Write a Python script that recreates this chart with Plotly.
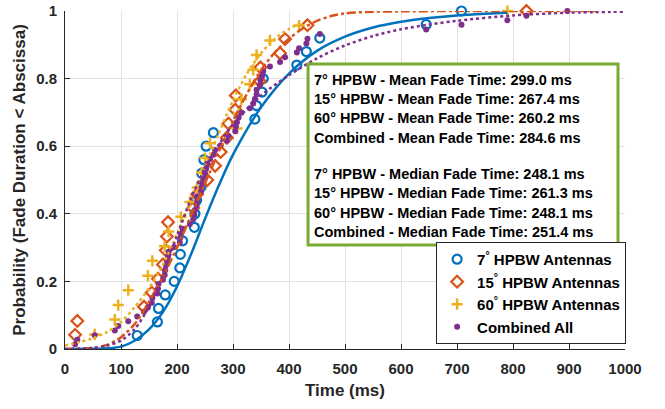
import plotly.graph_objects as go

# ---------------- data ----------------
# empirical CDF samples (fade durations, ms)
t7 = [129, 165, 167, 179, 195, 205, 206, 210, 231, 232, 235, 243, 244, 248, 252,
      265, 339, 342, 352, 354, 414, 431, 455, 645, 708]
p7 = [0.04, 0.08, 0.12, 0.16, 0.20, 0.24, 0.28, 0.32, 0.36, 0.40, 0.44, 0.48, 0.52,
      0.56, 0.60, 0.64, 0.68, 0.72, 0.76, 0.80, 0.84, 0.88, 0.92, 0.96, 1.00]

t15 = [18, 22, 141, 155, 166, 175, 180, 182, 184, 229, 236, 254, 268, 278, 289,
       292, 304, 305, 348, 349, 384, 393, 433, 824]
p15 = [0.042, 0.083, 0.125, 0.167, 0.208, 0.250, 0.292, 0.333, 0.375, 0.417, 0.458,
       0.500, 0.542, 0.583, 0.625, 0.667, 0.708, 0.750, 0.792, 0.833, 0.875, 0.917,
       0.958, 1.000]

t60 = [53, 89, 95, 113, 148, 156, 178, 185, 207, 223, 236, 244, 250, 259, 307, 310,
       315, 330, 336, 342, 366, 418, 790]
p60 = [0.043, 0.087, 0.130, 0.174, 0.217, 0.261, 0.304, 0.348, 0.391, 0.435, 0.478,
       0.522, 0.565, 0.609, 0.652, 0.696, 0.739, 0.783, 0.826, 0.870, 0.913, 0.957,
       1.000]

tall = [18, 22, 53, 89, 95, 113, 129, 141, 148, 155, 156, 165, 166, 167, 175, 178,
        179, 180, 182, 184, 185, 195, 205, 206, 207, 210, 223, 229, 231, 232, 235,
        236, 236, 243, 244, 244, 248, 250, 252, 254, 259, 265, 268, 278, 289, 292,
        304, 305, 307, 310, 315, 330, 336, 339, 342, 342, 348, 349, 352, 354, 366,
        384, 393, 414, 418, 431, 433, 455, 645, 708, 790, 824, 897]
pall = [0.014, 0.027, 0.041, 0.055, 0.068, 0.082, 0.096, 0.110, 0.123, 0.137, 0.151,
        0.164, 0.178, 0.192, 0.205, 0.219, 0.233, 0.247, 0.260, 0.274, 0.288, 0.301,
        0.315, 0.329, 0.342, 0.356, 0.370, 0.384, 0.397, 0.411, 0.425, 0.438, 0.452,
        0.466, 0.479, 0.493, 0.507, 0.521, 0.534, 0.548, 0.562, 0.575, 0.589, 0.603,
        0.616, 0.630, 0.644, 0.658, 0.671, 0.685, 0.699, 0.712, 0.726, 0.740, 0.753,
        0.767, 0.781, 0.795, 0.808, 0.822, 0.836, 0.849, 0.863, 0.877, 0.890, 0.904,
        0.918, 0.932, 0.945, 0.959, 0.973, 0.986, 1.000]

# fitted CDF curves
fit7_x = [0, 50, 75, 100, 125, 150, 175, 200, 225, 250, 275, 300, 350, 400, 450,
          500, 550, 600, 650, 700, 750, 790]
fit7_y = [0, 0.0005, 0.002, 0.007, 0.025, 0.058, 0.11, 0.185, 0.28, 0.385, 0.485,
          0.575, 0.715, 0.815, 0.882, 0.924, 0.951, 0.968, 0.979, 0.987, 0.992, 0.995]

fit15_x = [0, 50, 75, 100, 125, 150, 175, 200, 225, 250, 275, 300, 325, 350, 375,
           400, 425, 450, 475, 500, 550, 600, 700, 800, 950]
fit15_y = [0, 0.003, 0.012, 0.035, 0.075, 0.14, 0.215, 0.30, 0.395, 0.49, 0.585,
           0.675, 0.755, 0.825, 0.878, 0.918, 0.949, 0.971, 0.985, 0.993, 0.998, 0.999,
           1.0, 1.0, 1.0]

fit60_x = [0, 25, 50, 75, 100, 125, 150, 175, 200, 225, 250, 275, 300, 325, 350,
           375, 400, 420]
fit60_y = [0.01, 0.02, 0.032, 0.05, 0.08, 0.125, 0.18, 0.25, 0.34, 0.44, 0.54,
           0.64, 0.735, 0.815, 0.875, 0.918, 0.947, 0.964]

fitall_x = [0, 50, 75, 100, 125, 150, 175, 200, 225, 250, 275, 300, 350, 400, 450,
            500, 550, 600, 650, 700, 800, 900, 1000]
fitall_y = [0, 0.003, 0.01, 0.025, 0.06, 0.125, 0.22, 0.335, 0.445, 0.535, 0.605,
            0.665, 0.75, 0.81, 0.86, 0.898, 0.926, 0.946, 0.96, 0.971, 0.987, 0.995,
            0.998]

groups = ["7° HPBW", "15° HPBW", "60° HPBW", "Combined"]
mean_ms = [299.0, 267.4, 260.2, 284.6]
median_ms = [248.1, 261.3, 248.1, 251.4]

legend_names = ["7<sup>°</sup> HPBW Antennas", "15<sup>°</sup> HPBW Antennas",
                "60<sup>°</sup> HPBW Antennas", "Combined All"]

x_ticks = [0, 100, 200, 300, 400, 500, 600, 700, 800, 900, 1000]
y_ticks = [0, 0.2, 0.4, 0.6, 0.8, 1]
y_ticktext = ["0", "0.2", "0.4", "0.6", "0.8", "1"]

# ---------------- style ----------------
BLUE = "#0072BD"
ORANGE = "#D95319"
YELLOW = "#EDB120"
PURPLE = "#7E2F8E"
GREEN = "#77AC30"
AX = "#262626"
FONT = "Liberation Sans"

fig = go.Figure()

fig.add_trace(go.Scatter(x=t7, y=p7, mode="markers", name=legend_names[0],
                         marker=dict(symbol="circle-open", size=9, color=BLUE,
                                     line=dict(width=2.2, color=BLUE)),
                         cliponaxis=False))
fig.add_trace(go.Scatter(x=t15, y=p15, mode="markers", name=legend_names[1],
                         marker=dict(symbol="diamond-open", size=9, color=ORANGE,
                                     line=dict(width=2.2, color=ORANGE)),
                         cliponaxis=False))
fig.add_trace(go.Scatter(x=t60, y=p60, mode="markers", name=legend_names[2],
                         marker=dict(symbol="cross-thin", size=8, color=YELLOW,
                                     line=dict(width=2.5, color=YELLOW)),
                         cliponaxis=False))
fig.add_trace(go.Scatter(x=tall, y=pall, mode="markers", name=legend_names[3],
                         marker=dict(symbol="circle", size=6, color=PURPLE),
                         cliponaxis=False))

fig.add_trace(go.Scatter(x=fit7_x, y=fit7_y, mode="lines", showlegend=False,
                         line=dict(color=BLUE, width=2.5, shape="spline", smoothing=0.8)))
fig.add_trace(go.Scatter(x=fit15_x, y=fit15_y, mode="lines", showlegend=False,
                         line=dict(color=ORANGE, width=2.5, dash="dashdot",
                                   shape="spline", smoothing=0.8)))
fig.add_trace(go.Scatter(x=fit60_x, y=fit60_y, mode="lines", showlegend=False,
                         line=dict(color=YELLOW, width=2.5, dash="dot",
                                   shape="spline", smoothing=0.8)))
fig.add_trace(go.Scatter(x=fitall_x, y=fitall_y, mode="lines", showlegend=False,
                         line=dict(color=PURPLE, width=2.5, dash="dot",
                                   shape="spline", smoothing=0.8)))

# statistics text box (plot area is 560 x 338 px)
PW, PH = 560.0, 338.0
fig.add_shape(type="rect", xref="paper", yref="paper",
              x0=0.434, x1=0.9875, y0=0.308, y1=0.843,
              line=dict(color=GREEN, width=3), fillcolor="white", layer="above")

lines = [f"{g} - Mean Fade Time: {m:.1f} ms" for g, m in zip(groups, mean_ms)]
lines2 = [f"{g} - Median Fade Time: {m:.1f} ms" for g, m in zip(groups, median_ms)]
for i, txt in enumerate(lines):
    ypx = 69 + 19.2 * i
    fig.add_annotation(xref="paper", yref="paper", x=247 / PW, y=1 - ypx / PH,
                       text=txt, showarrow=False, xanchor="left", yanchor="middle",
                       font=dict(family=FONT, size=14.5, color="black", weight="bold"))
for i, txt in enumerate(lines2):
    ypx = 163 + 19.3 * i
    fig.add_annotation(xref="paper", yref="paper", x=247 / PW, y=1 - ypx / PH,
                       text=txt, showarrow=False, xanchor="left", yanchor="middle",
                       font=dict(family=FONT, size=14.5, color="black", weight="bold"))

fig.update_layout(
    width=665, height=409,
    margin=dict(l=65, r=40, t=11, b=60, autoexpand=False),
    paper_bgcolor="white", plot_bgcolor="white",
    font=dict(family=FONT, color=AX),
    legend=dict(x=1.002, xanchor="right", y=0.015, yanchor="bottom",
                bgcolor="white", bordercolor=AX, borderwidth=1,
                font=dict(family=FONT, size=15, color="black", weight="bold"),
                itemwidth=30, tracegroupgap=0),
    xaxis=dict(range=[0, 1000], tickvals=x_ticks, ticks="inside", ticklen=5,
               tickcolor=AX, showline=True, linecolor=AX, linewidth=1,
               showgrid=True, gridcolor="#e2e2e2", gridwidth=1, zeroline=False,
               automargin=False,
               tickfont=dict(family=FONT, size=15, color=AX, weight="bold"),
               ticklabelstandoff=6,
               title=dict(text="Time (ms)", standoff=8,
                          font=dict(family=FONT, size=17, color=AX, weight="bold"))),
    yaxis=dict(range=[0, 1], tickvals=y_ticks, ticktext=y_ticktext, ticks="inside",
               ticklen=5, tickcolor=AX, showline=True, linecolor=AX, linewidth=1,
               showgrid=True, gridcolor="#e2e2e2", gridwidth=1, zeroline=False,
               automargin=False,
               tickfont=dict(family=FONT, size=15, color=AX, weight="bold"),
               ticklabelstandoff=4,
               title=dict(text="Probability (Fade Duration < Abscissa)", standoff=6,
                          font=dict(family=FONT, size=17, color=AX, weight="bold"))),
)

fig.write_html("out.html",
               config={"displayModeBar": False},
               post_script="document.body.style.margin='0px';"
                           "document.body.style.overflow='hidden';")
